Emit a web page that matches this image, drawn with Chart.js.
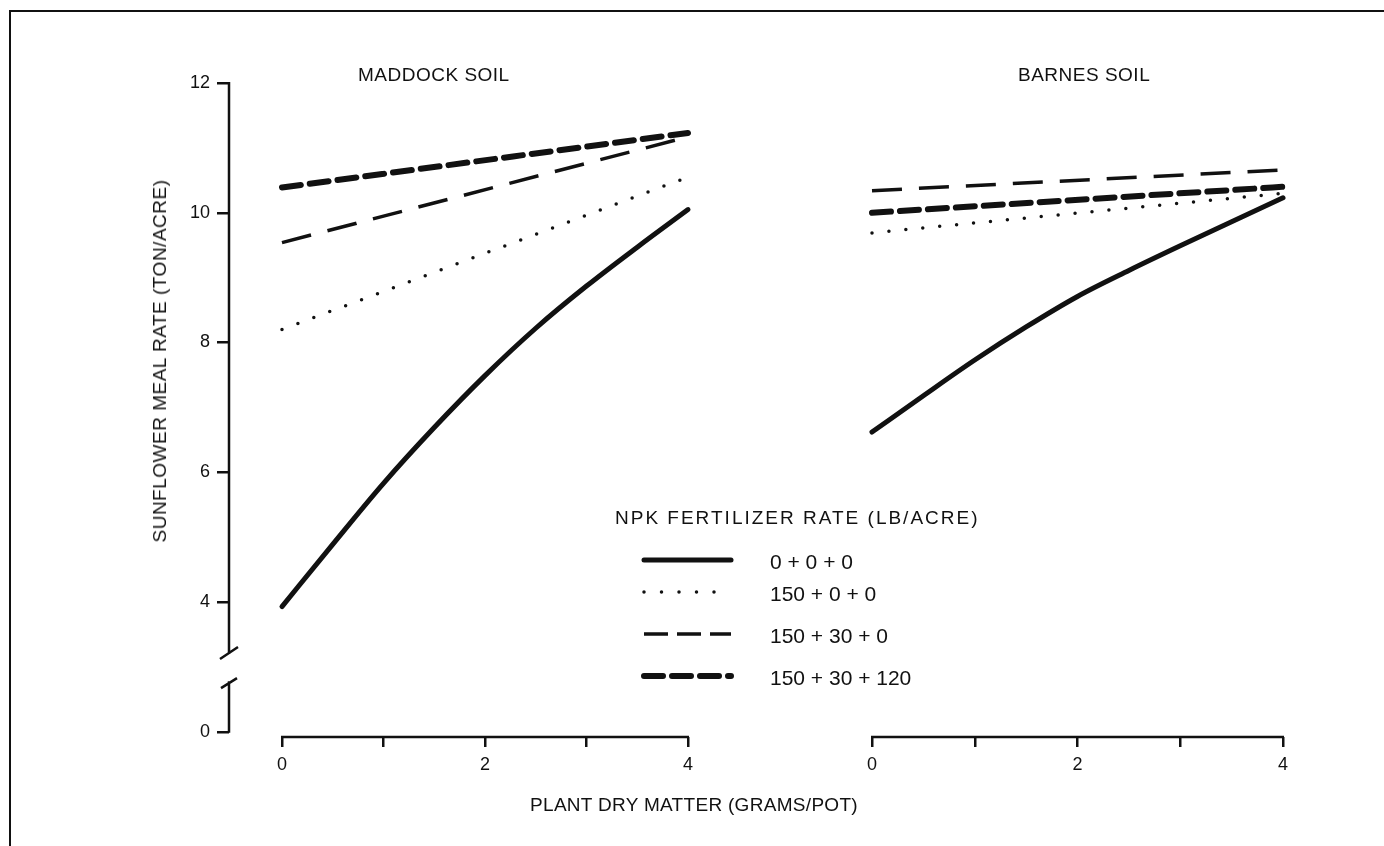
<!DOCTYPE html>
<html>
<head>
<meta charset="utf-8">
<script src="https://cdn.jsdelivr.net/npm/chart.js@4.4.1/dist/chart.umd.min.js"></script>
<style>
  html, body { margin: 0; padding: 0; background: #fff; }
  body { width: 1384px; height: 846px; position: relative; overflow: hidden;
         font-family: "Liberation Sans", Arial, sans-serif; color: #111; }
  .frame { position: absolute; left: 9px; top: 10px; width: 1400px; height: 900px;
           border-left: 2.5px solid #111; border-top: 2.5px solid #111; }
  canvas { position: absolute; top: 0; }
  #maddock { left: 0; }
  #barnes { left: 760px; }
  .txt { position: absolute; white-space: nowrap; font-size: 19px; line-height: 22px; }
  .panel { letter-spacing: 0.5px; }
  .ytitle { transform: translate(-50%, -50%) rotate(-90deg); letter-spacing: 0.5px; }
  .xtitle { transform: translate(-50%, -50%); letter-spacing: 0.3px; }
  #legend { position: absolute; left: 615px; top: 507px; }
  .leg-row { position: absolute; left: 0; white-space: nowrap; font-size: 21px; line-height: 24px; }
  .leg-title { font-size: 19px; line-height: 22px; letter-spacing: 2px; }
  .leg-row svg { position: absolute; left: 24px; top: 4px; }
  .leg-row span { position: absolute; left: 155px; top: 0; }
</style>
</head>
<body>
<div class="frame"></div>
<canvas id="maddock" width="760" height="846"></canvas>
<canvas id="barnes" width="624" height="846"></canvas>

<div class="txt panel" style="left:358px; top:64px;">MADDOCK SOIL</div>
<div class="txt panel" style="left:1018px; top:64px;">BARNES SOIL</div>
<div class="txt ytitle" style="left:160px; top:361px;">SUNFLOWER MEAL RATE (TON/ACRE)</div>
<div class="txt xtitle" style="left:694px; top:805px;">PLANT DRY MATTER (GRAMS/POT)</div>
<div id="legend"></div>

<script>
const INK = '#111';

// x positions (grams/pot)
const CURVE_X = [0, 0.5, 1, 1.5, 2, 2.5, 3, 3.5, 4];
const LINE_X = [0, 4];

// Maddock soil
const MADDOCK_NONE = [3.93, 4.89, 5.83, 6.69, 7.49, 8.22, 8.87, 9.47, 10.05];
const MADDOCK_N = [8.2, 10.55];
const MADDOCK_NP = [9.54, 11.17];
const MADDOCK_NPK = [10.39, 11.23];

// Barnes soil
const BARNES_NONE = [6.62, 7.18, 7.73, 8.24, 8.71, 9.11, 9.49, 9.86, 10.23];
const BARNES_N = [9.69, 10.3];
const BARNES_NP = [10.34, 10.66];
const BARNES_NPK = [10.0, 10.4];

const RATES = ['0 + 0 + 0', '150 + 0 + 0', '150 + 30 + 0', '150 + 30 + 120'];

const X_TICKS = [0, 1, 2, 3, 4];
const X_LABELS = [0, 2, 4];
// y axis is broken: the "0" tick sits just under the break
const Y_ZERO_AT = 2;
const Y_TICKS = [Y_ZERO_AT, 4, 6, 8, 10, 12];

const STYLES = [
    { borderWidth: 5, borderDash: [], borderCapStyle: 'round' },
    { borderWidth: 3.5, borderDash: [0, 17], borderCapStyle: 'round' },
    { borderWidth: 3.5, borderDash: [30, 17], borderCapStyle: 'butt' },
    { borderWidth: 6, borderDash: [19, 9], borderCapStyle: 'round' }
];
// the legend swatches are short, so the dashed one uses shorter dashes
const LEGEND_DASH = [[], [0, 17.5], [24, 9], [19, 9]];

function pts(xs, ys) {
    return ys.map((v, i) => ({ x: xs[i], y: v }));
}

function makeSets(none, n, np, npk) {
    const series = [pts(CURVE_X, none), pts(LINE_X, n), pts(LINE_X, np), pts(LINE_X, npk)];
    return series.map((d, i) => Object.assign({
        label: RATES[i],
        data: d,
        borderColor: INK,
        pointRadius: 0,
        fill: false,
        clip: false,
        cubicInterpolationMode: 'monotone'
    }, STYLES[i]));
}

// x axis line from 0 to 4 plus the broken y axis
const axisLines = {
    id: 'axisLines',
    afterDraw(chart, args, opts) {
        const { ctx, scales: { x, y }, chartArea } = chart;
        ctx.save();
        ctx.strokeStyle = INK;
        ctx.lineWidth = 2.5;
        ctx.beginPath();
        ctx.moveTo(x.getPixelForValue(0) - 1, chartArea.bottom);
        ctx.lineTo(x.getPixelForValue(4) + 1, chartArea.bottom);
        ctx.stroke();
        if (opts.brokenY) {
            const ax = chartArea.left;
            const hi = y.getPixelForValue(3.2);
            const lo = y.getPixelForValue(2.75);
            ctx.beginPath();
            ctx.moveTo(ax, y.getPixelForValue(12) - 1);
            ctx.lineTo(ax, hi);
            ctx.moveTo(ax - 9, hi + 5);
            ctx.lineTo(ax + 9, hi - 7);
            ctx.moveTo(ax - 8, lo + 5);
            ctx.lineTo(ax + 8, lo - 5);
            ctx.moveTo(ax, lo - 2);
            ctx.lineTo(ax, y.getPixelForValue(Y_ZERO_AT) + 1);
            ctx.stroke();
        }
        ctx.restore();
    }
};

function makeChart(id, datasets, showY, padding, xMin) {
    return new Chart(document.getElementById(id), {
        type: 'line',
        data: { datasets: datasets },
        plugins: [axisLines],
        options: {
            responsive: false,
            animation: false,
            layout: { padding: padding },
            scales: {
                x: {
                    type: 'linear',
                    min: xMin,
                    max: 4,
                    afterBuildTicks: s => { s.ticks = X_TICKS.map(v => ({ value: v })); },
                    afterFit: s => { s.height = 109; },
                    border: { display: false },
                    grid: { drawOnChartArea: false, tickLength: 10, lineWidth: 2.5, color: INK },
                    ticks: {
                        color: INK,
                        padding: 7,
                        maxRotation: 0,
                        font: { family: 'Liberation Sans', size: 18 },
                        callback: v => X_LABELS.includes(v) ? String(v) : ''
                    }
                },
                y: {
                    type: 'linear',
                    display: showY,
                    min: 1.92,
                    max: 12,
                    afterBuildTicks: s => { s.ticks = Y_TICKS.map(v => ({ value: v })); },
                    afterFit: s => { if (showY) s.width = 229; },
                    border: { display: false },
                    grid: { drawOnChartArea: false, tickLength: 12, lineWidth: 2.5, color: INK },
                    ticks: {
                        color: INK,
                        padding: 7,
                        font: { family: 'Liberation Sans', size: 18 },
                        callback: v => v === Y_ZERO_AT ? '0' : String(v)
                    }
                }
            },
            plugins: {
                legend: { display: false },
                tooltip: { enabled: false },
                axisLines: { brokenY: showY }
            }
        }
    });
}

makeChart('maddock', makeSets(MADDOCK_NONE, MADDOCK_N, MADDOCK_NP, MADDOCK_NPK), true,
    { top: 83, right: 72, bottom: 0, left: 0 }, -0.522);
makeChart('barnes', makeSets(BARNES_NONE, BARNES_N, BARNES_NP, BARNES_NPK), false,
    { top: 83, right: 101, bottom: 0, left: 112 }, 0);

// legend: title + one row per fertilizer rate
const legend = document.getElementById('legend');
const title = document.createElement('div');
title.className = 'leg-row leg-title';
title.style.top = '0px';
title.textContent = 'NPK FERTILIZER RATE (LB/ACRE)';
legend.appendChild(title);
const rowTops = [43, 75, 117, 159];
RATES.forEach((r, i) => {
    const st = STYLES[i];
    const row = document.createElement('div');
    row.className = 'leg-row';
    row.style.top = rowTops[i] + 'px';
    const dash = LEGEND_DASH[i].length ? LEGEND_DASH[i].join(' ') : 'none';
    row.innerHTML =
        '<svg width="100" height="12"><line x1="5" y1="6" x2="92" y2="6" stroke="' + INK +
        '" stroke-width="' + st.borderWidth + '" stroke-linecap="' + st.borderCapStyle +
        '" stroke-dasharray="' + dash + '"/></svg><span>' + r + '</span>';
    legend.appendChild(row);
});
</script>
</body>
</html>
